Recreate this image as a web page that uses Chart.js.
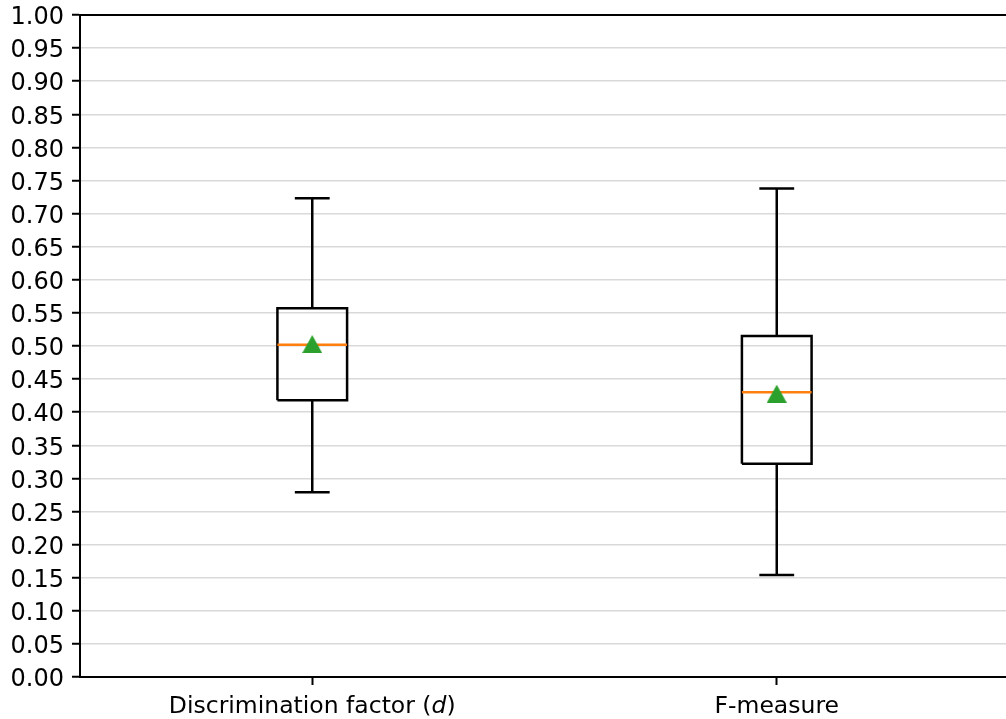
<!DOCTYPE html>
<html>
<head>
<meta charset="utf-8">
<script src="https://cdn.jsdelivr.net/npm/chart.js@4.4.0/dist/chart.umd.min.js"></script>
<style>
  html, body { margin: 0; padding: 0; background: #fff; overflow: hidden; }
</style>
</head>
<body>
<canvas id="boxChart" width="1020" height="719"></canvas>
<script>
// box plot values
const categories = ["Discrimination factor (d)", "F-measure"];
const positions = [1, 2];
const whiskerLow = [0.279, 0.154];
const q1 = [0.418, 0.322];
const medians = [0.502, 0.430];
const q3 = [0.557, 0.515];
const whiskerHigh = [0.723, 0.738];
const means = [0.503, 0.428];
const yTicks = Array.from({ length: 21 }, (_, i) => i * 0.05);

const BOX_HALF = 0.075; // half box width in x units
const CAP_HALF = 0.0375; // half whisker cap width
const FONT = "'DejaVu Sans', sans-serif";

// build line points for the boxes, whiskers and medians
const boxPoints = [];
const whiskerPoints = [];
const medianPoints = [];
positions.forEach((x, i) => {
  boxPoints.push(
    { x: x - BOX_HALF, y: q1[i] }, { x: x + BOX_HALF, y: q1[i] },
    { x: x + BOX_HALF, y: q3[i] }, { x: x - BOX_HALF, y: q3[i] },
    { x: x - BOX_HALF, y: q1[i] }, { x: x, y: null }
  );
  whiskerPoints.push(
    { x: x, y: q3[i] }, { x: x, y: whiskerHigh[i] }, { x: x, y: null },
    { x: x - CAP_HALF, y: whiskerHigh[i] }, { x: x + CAP_HALF, y: whiskerHigh[i] }, { x: x, y: null },
    { x: x, y: q1[i] }, { x: x, y: whiskerLow[i] }, { x: x, y: null },
    { x: x - CAP_HALF, y: whiskerLow[i] }, { x: x + CAP_HALF, y: whiskerLow[i] }, { x: x, y: null }
  );
  medianPoints.push({ x: x - BOX_HALF, y: medians[i] }, { x: x + BOX_HALF, y: medians[i] }, { x: x, y: null });
});
const meanPoints = positions.map((x, i) => ({ x: x, y: means[i] }));

// triangle marker centred on its bounding box (like matplotlib "^")
const triangle = document.createElement("canvas");
triangle.width = 20;
triangle.height = 18;
const tctx = triangle.getContext("2d");
tctx.fillStyle = "#2ca02c";
tctx.beginPath();
tctx.moveTo(10, 0);
tctx.lineTo(20, 18);
tctx.lineTo(0, 18);
tctx.closePath();
tctx.fill();

// top spine + x tick labels (with italic d)
const extrasPlugin = {
  id: "extras",
  afterDraw(chart) {
    const ctx = chart.ctx;
    const area = chart.chartArea;
    ctx.save();
    ctx.strokeStyle = "#000";
    ctx.lineWidth = 2;
    ctx.beginPath();
    ctx.moveTo(area.left - 1, area.top);
    ctx.lineTo(area.right, area.top);
    ctx.stroke();

    ctx.fillStyle = "#000";
    ctx.textBaseline = "alphabetic";
    const normal = "23.5px " + FONT;
    const italic = "italic 23.5px " + FONT;
    const y = 712.5;
    categories.forEach((label, i) => {
      const cx = chart.scales.x.getPixelForValue(positions[i]);
      const m = label.match(/^(.*\()(d)(\))$/);
      const parts = m ? [[m[1], normal], [m[2], italic], [m[3], normal]] : [[label, normal]];
      let total = 0;
      parts.forEach((p) => { ctx.font = p[1]; total += ctx.measureText(p[0]).width; });
      let x = cx - total / 2;
      ctx.textAlign = "left";
      parts.forEach((p) => {
        ctx.font = p[1];
        ctx.fillText(p[0], x, y);
        x += ctx.measureText(p[0]).width;
      });
    });
    ctx.restore();
  },
};

new Chart("boxChart", {
  type: "line",
  data: {
    datasets: [
      {
        label: "Mean",
        data: meanPoints,
        showLine: false,
        pointStyle: triangle,
        pointRadius: 10,
      },
      {
        label: "Median",
        data: medianPoints,
        borderColor: "#ff7f0e",
        borderWidth: 2.5,
        pointRadius: 0,
        spanGaps: false,
      },
      {
        label: "Box",
        data: boxPoints,
        borderColor: "#000",
        borderWidth: 2.5,
        pointRadius: 0,
        spanGaps: false,
      },
      {
        label: "Whiskers",
        data: whiskerPoints,
        borderColor: "#000",
        borderWidth: 2.5,
        pointRadius: 0,
        spanGaps: false,
      },
    ],
  },
  options: {
    responsive: false,
    animation: false,
    events: [],
    layout: { padding: { top: 15, right: 6.5, left: 0, bottom: 0 } },
    plugins: {
      legend: { display: false },
      tooltip: { enabled: false },
    },
    scales: {
      x: {
        type: "linear",
        min: 0.5,
        max: 2.5,
        afterBuildTicks: (scale) => {
          scale.ticks = positions.map((v) => ({ value: v }));
        },
        afterFit: (scale) => { scale.height = 42; },
        ticks: { display: false },
        grid: {
          drawOnChartArea: false,
          drawTicks: true,
          tickLength: 8,
          tickColor: "#000",
          tickWidth: 2,
        },
        border: { display: true, color: "#000", width: 2 },
      },
      y: {
        min: 0,
        max: 1,
        afterBuildTicks: (scale) => {
          scale.ticks = yTicks.map((v) => ({ value: v }));
        },
        afterFit: (scale) => { scale.width = 80; },
        ticks: {
          autoSkip: false,
          padding: 8,
          labelOffset: 3,
          color: "#000",
          font: { family: FONT, size: 24, lineHeight: 0.5 },
          callback: (v) => v.toFixed(2),
        },
        grid: {
          color: "#d9d9d9",
          lineWidth: 1.5,
          tickLength: 8,
          tickColor: "#000",
          tickWidth: 2,
        },
        border: { display: true, color: "#000", width: 2 },
      },
    },
  },
  plugins: [extrasPlugin],
});
</script>
</body>
</html>
